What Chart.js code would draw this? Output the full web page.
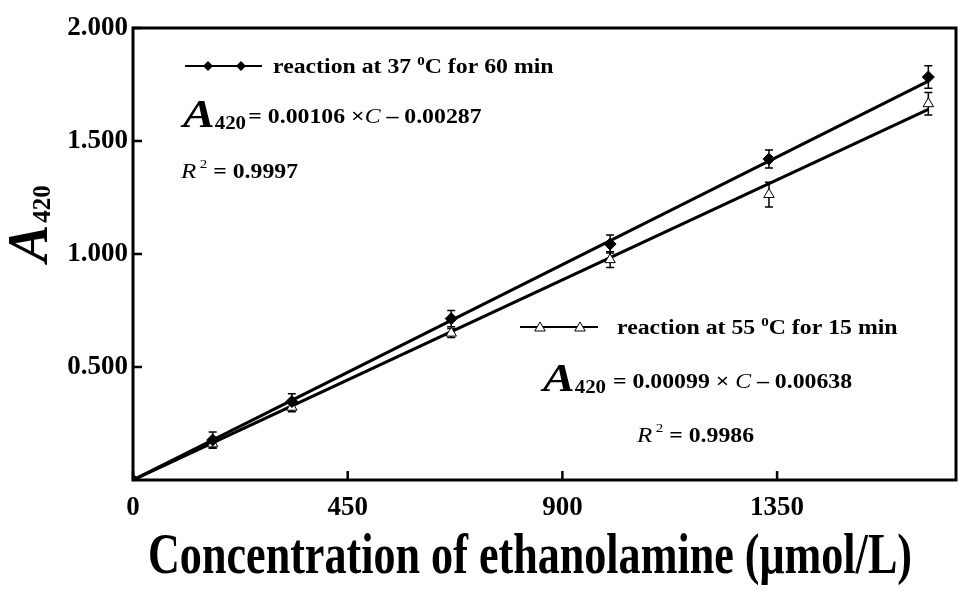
<!DOCTYPE html>
<html>
<head>
<meta charset="utf-8">
<script src="https://cdn.jsdelivr.net/npm/chart.js@4"></script>
<style>
    body { margin: 0; background: #fff; }
    canvas { display: block; }
</style>
</head>
<body>
<canvas id="chart" width="970" height="593"></canvas>
<script>
const concentrations = [0, 167, 333, 667, 1000, 1333, 1667];
const absorb37 = [0, 0.177, 0.347, 0.714, 1.044, 1.420, 1.783];
const err37 = [0, 0.035, 0.035, 0.036, 0.04, 0.04, 0.05];
const absorb55 = [0, 0.160, 0.322, 0.650, 0.975, 1.263, 1.665];
const err55 = [0, 0.02, 0.02, 0.02, 0.035, 0.055, 0.05];
const fitX = [0, 1667];
const fit37 = [0, 1.765];
const fit55 = [0, 1.64];
const xTicks = [0, 450, 900, 1350];
const yTicks = [0.5, 1.0, 1.5, 2.0];

const SERIF = "'Liberation Serif', 'Times New Roman', serif";
const STRETCH = 1.16;

function pts(xs, ys) {
    return xs.map((x, i) => ({ x: x, y: ys[i] }));
}

// draw a row of differently styled text pieces, stretched horizontally
function drawRuns(ctx, x, y, runs, sx) {
    ctx.save();
    ctx.translate(x, y);
    ctx.scale(sx || 1, 1);
    let cx = 0;
    runs.forEach(r => {
        ctx.font = r.font;
        ctx.fillText(r.text, cx, r.dy || 0);
        cx += ctx.measureText(r.text).width + (r.gap || 0);
    });
    ctx.restore();
}

function diamond(ctx, x, y, r) {
    ctx.beginPath();
    ctx.moveTo(x, y - r);
    ctx.lineTo(x + r, y);
    ctx.lineTo(x, y + r);
    ctx.lineTo(x - r, y);
    ctx.closePath();
    ctx.fill();
}

function triangle(ctx, x, y, r) {
    ctx.beginPath();
    ctx.moveTo(x, y - r);
    ctx.lineTo(x + r * 0.87, y + r * 0.5);
    ctx.lineTo(x - r * 0.87, y + r * 0.5);
    ctx.closePath();
    ctx.fillStyle = "#fff";
    ctx.fill();
    ctx.lineWidth = 1;
    ctx.stroke();
}

const errorBars = {
    id: "errorBars",
    beforeDatasetsDraw(chart) {
        const ctx = chart.ctx;
        const xs = chart.scales.x, ys = chart.scales.y;
        ctx.save();
        ctx.strokeStyle = "#000";
        ctx.lineWidth = 1.5;
        [[absorb37, err37], [absorb55, err55]].forEach(([vals, errs]) => {
            concentrations.forEach((c, i) => {
                if (!errs[i]) return;
                const px = xs.getPixelForValue(c);
                const top = ys.getPixelForValue(vals[i] + errs[i]);
                const bot = ys.getPixelForValue(vals[i] - errs[i]);
                ctx.beginPath();
                ctx.moveTo(px, top); ctx.lineTo(px, bot);
                ctx.moveTo(px - 4, top); ctx.lineTo(px + 4, top);
                ctx.moveTo(px - 4, bot); ctx.lineTo(px + 4, bot);
                ctx.stroke();
            });
        });
        ctx.restore();
    }
};

const decorations = {
    id: "decorations",
    afterDraw(chart) {
        const ctx = chart.ctx;
        const a = chart.chartArea;
        const xs = chart.scales.x, ys = chart.scales.y;
        ctx.save();
        ctx.strokeStyle = "#000";
        ctx.fillStyle = "#000";

        // frame
        ctx.lineWidth = 3;
        ctx.strokeRect(a.left, a.top, a.right - a.left, a.bottom - a.top);

        // inward ticks
        ctx.beginPath();
        xTicks.forEach(v => {
            const px = xs.getPixelForValue(v);
            ctx.moveTo(px, a.bottom); ctx.lineTo(px, a.bottom - 9);
        });
        yTicks.forEach(v => {
            const py = ys.getPixelForValue(v);
            ctx.moveTo(a.left, py); ctx.lineTo(a.left + 9, py);
        });
        ctx.lineWidth = 2.5;
        ctx.stroke();

        ctx.textBaseline = "alphabetic";
        ctx.textAlign = "left";

        const txt = "bold 20.5px " + SERIF;
        const sup = "bold 13px " + SERIF;
        const big = "italic bold 41px " + SERIF;
        const sub = "bold 18px " + SERIF;
        const ital = "italic 20.5px " + SERIF;

        // legend 1
        ctx.lineWidth = 2;
        ctx.beginPath(); ctx.moveTo(185, 66); ctx.lineTo(262, 66); ctx.stroke();
        diamond(ctx, 208, 66, 5); diamond(ctx, 241, 66, 5);
        drawRuns(ctx, 273, 73, [
            { text: "reaction at 37 ", font: txt },
            { text: "0", font: sup, dy: -8 },
            { text: "C for 60 min", font: txt }
        ], STRETCH);
        drawRuns(ctx, 183, 127, [
            { text: "A", font: big },
            { text: "420", font: sub, dy: 2, gap: 2 },
            { text: "= 0.00106 \u00d7", font: txt, dy: -4 },
            { text: "C", font: ital, dy: -4 },
            { text: " \u2013 0.00287", font: txt, dy: -4 }
        ], STRETCH);
        drawRuns(ctx, 181, 178, [
            { text: "R", font: "italic 21.5px " + SERIF, gap: 3 },
            { text: "2", font: "13px " + SERIF, dy: -10 },
            { text: " = 0.9997", font: txt }
        ], STRETCH);

        // legend 2
        ctx.fillStyle = "#000";
        ctx.beginPath(); ctx.moveTo(520, 327); ctx.lineTo(598, 327); ctx.stroke();
        triangle(ctx, 540, 328, 6); triangle(ctx, 580, 328, 6);
        ctx.fillStyle = "#000";
        drawRuns(ctx, 617, 334, [
            { text: "reaction at 55 ", font: txt },
            { text: "0", font: sup, dy: -8 },
            { text: "C for 15 min", font: txt }
        ], STRETCH);
        drawRuns(ctx, 543, 391, [
            { text: "A", font: big },
            { text: "420", font: sub, dy: 2, gap: 6 },
            { text: "= 0.00099 \u00d7 ", font: txt, dy: -3 },
            { text: "C", font: ital, dy: -3 },
            { text: " \u2013 0.00638", font: txt, dy: -3 }
        ], STRETCH);
        drawRuns(ctx, 637, 442, [
            { text: "R", font: "italic 21.5px " + SERIF, gap: 3 },
            { text: "2", font: "13px " + SERIF, dy: -10 },
            { text: " = 0.9986", font: txt }
        ], STRETCH);

        // y axis title, rotated
        ctx.save();
        ctx.translate(47, 262);
        ctx.rotate(-Math.PI / 2);
        drawRuns(ctx, 0, 0, [
            { text: "A", font: "italic bold 56px " + SERIF, gap: 2 },
            { text: "420", font: "bold 25px " + SERIF, dy: 3 }
        ]);
        ctx.restore();

        // x axis title, condensed
        const title = "Concentration of ethanolamine (\u03bcmol/L)";
        ctx.font = "bold 58px " + SERIF;
        const w = ctx.measureText(title).width;
        ctx.save();
        ctx.translate(148, 573);
        ctx.scale(764 / w, 1);
        ctx.fillText(title, 0, 0);
        ctx.restore();

        ctx.restore();
    }
};

const tickFont = { family: SERIF, size: 27, weight: "bold" };

new Chart(document.getElementById("chart"), {
    type: "scatter",
    data: {
        datasets: [
            {
                data: pts(concentrations, absorb37),
                pointStyle: "rectRot",
                pointRadius: 6,
                backgroundColor: "#000",
                borderColor: "#000",
                borderWidth: 1,
                order: 1
            },
            {
                data: pts(concentrations, absorb55),
                pointStyle: "triangle",
                pointRadius: 6,
                backgroundColor: "#fff",
                borderColor: "#000",
                borderWidth: 1,
                order: 1
            },
            {
                data: pts(fitX, fit37),
                showLine: true,
                pointRadius: 0,
                borderColor: "#000",
                borderWidth: 3,
                order: 2
            },
            {
                data: pts(fitX, fit55),
                showLine: true,
                pointRadius: 0,
                borderColor: "#000",
                borderWidth: 3,
                order: 2
            }
        ]
    },
    options: {
        responsive: false,
        devicePixelRatio: 1,
        animation: false,
        layout: {
            padding: { top: 28, right: 14, left: 0, bottom: 0 }
        },
        scales: {
            x: {
                type: "linear",
                min: 0,
                max: 1725,
                afterBuildTicks: s => { s.ticks = xTicks.map(v => ({ value: v })); },
                afterFit: s => { s.height = 113; },
                grid: { display: false, drawTicks: false },
                border: { display: false },
                ticks: {
                    padding: 12,
                    color: "#000",
                    font: tickFont,
                    maxRotation: 0,
                    callback: v => String(v)
                }
            },
            y: {
                min: 0,
                max: 2,
                afterBuildTicks: s => { s.ticks = yTicks.map(v => ({ value: v })); },
                afterFit: s => { s.width = 133; },
                grid: { display: false, drawTicks: false },
                border: { display: false },
                ticks: {
                    padding: 5,
                    color: "#000",
                    font: tickFont,
                    callback: v => v.toFixed(3)
                }
            }
        },
        plugins: {
            legend: { display: false },
            tooltip: { enabled: false }
        }
    },
    plugins: [errorBars, decorations]
});
</script>
</body>
</html>
